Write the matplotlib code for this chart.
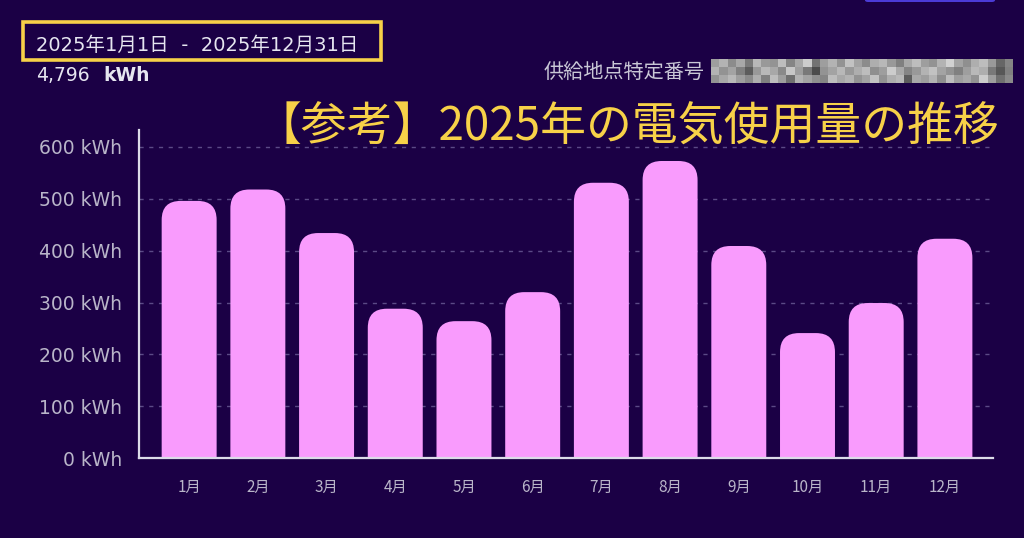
import numpy as np
import matplotlib.pyplot as plt
from matplotlib.patches import FancyBboxPatch, Rectangle

plt.rcParams['font.family'] = ['Noto Sans CJK JP', 'DejaVu Sans']
latin_first = ['DejaVu Sans', 'Noto Sans CJK JP']

# data
months = ['1月', '2月', '3月', '4月', '5月', '6月', '7月', '8月', '9月', '10月', '11月', '12月']
usage_kwh = [496, 518, 434, 288, 264, 320, 531, 573, 409, 241, 299, 423]
y_ticks = [0, 100, 200, 300, 400, 500, 600]
period_text = '2025年1月1日  -  2025年12月31日'
total_text = '4,796'
title_text = '【参考】2025年の電気使用量の推移'

# redacted id mosaic (grey levels)
mosaic = [
    [0.62, 0.70, 0.55, 0.66, 0.48, 0.72, 0.60, 0.58, 0.74, 0.52, 0.66, 0.80, 0.45, 0.62, 0.70, 0.58, 0.76, 0.64,
     0.55, 0.68, 0.72, 0.60, 0.50, 0.66, 0.74, 0.62, 0.58, 0.70, 0.82, 0.64, 0.56, 0.68, 0.74, 0.60, 0.40, 0.52],
    [0.70, 0.58, 0.64, 0.50, 0.36, 0.60, 0.72, 0.66, 0.54, 0.78, 0.62, 0.48, 0.30, 0.58, 0.64, 0.72, 0.60, 0.68,
     0.74, 0.56, 0.62, 0.80, 0.66, 0.52, 0.60, 0.70, 0.76, 0.64, 0.58, 0.50, 0.62, 0.72, 0.68, 0.48, 0.34, 0.50],
    [0.58, 0.66, 0.72, 0.62, 0.54, 0.68, 0.50, 0.74, 0.62, 0.44, 0.70, 0.64, 0.56, 0.52, 0.74, 0.66, 0.70, 0.58,
     0.64, 0.76, 0.58, 0.68, 0.72, 0.36, 0.66, 0.62, 0.70, 0.56, 0.74, 0.62, 0.66, 0.58, 0.80, 0.62, 0.44, 0.54],
]

bg = '#1b0045'
bar_color = '#f99bfd'
yellow = '#f7d148'
light = '#dcdce8'
tick_color = '#b9b5c9'

W, H = 1024, 538
fig = plt.figure(figsize=(W / 100, H / 100), dpi=100, facecolor=bg)

# axes placed by pixel geometry of the reference
ax_l, ax_r, ax_b, ax_t = 139, 993, 458, 130
ax = fig.add_axes([ax_l / W, 1 - ax_b / H, (ax_r - ax_l) / W, (ax_b - ax_t) / H])
ax.set_facecolor(bg)

ymax = 600 * (458 - 130) / (458 - 147)
x_lo, x_hi = -0.73, 11.70
ax.set_xlim(x_lo, x_hi)
ax.set_ylim(0, ymax)

# rounded-top bars: radius in pixels converted to data units
px_per_x = (ax_r - ax_l) / (x_hi - x_lo)
px_per_y = (ax_b - ax_t) / ymax
radius_px = 19
r_x = radius_px / px_per_x
aspect = px_per_x / px_per_y
bar_w = 0.80
for i, v in enumerate(usage_kwh):
    ax.add_patch(FancyBboxPatch((i - bar_w / 2, -radius_px / px_per_y), bar_w, v + radius_px / px_per_y,
                                boxstyle=f'round,pad=0,rounding_size={r_x}', mutation_aspect=aspect,
                                facecolor=bar_color, edgecolor='none', zorder=3))

ax.set_yticks(y_ticks)
ax.set_yticklabels([f'{t} kWh' for t in y_ticks], color=tick_color, fontsize=13.5, family=latin_first)
ax.set_xticks(range(len(months)))
ax.set_xticklabels(months, color=tick_color, fontsize=11)
ax.tick_params(length=0, axis='y', pad=12)
ax.tick_params(length=0, axis='x', pad=15)
for t in y_ticks[1:]:
    ax.axhline(t, color='#5b4a86', lw=1, ls=(0, (3, 4)), zorder=1)

for s in ['top', 'right']:
    ax.spines[s].set_visible(False)
for s in ['left', 'bottom']:
    ax.spines[s].set_color(light)
    ax.spines[s].set_linewidth(1.6)
    ax.spines[s].set_zorder(4)

# header texts
fig.text(36 / W, 1 - 45 / H, period_text, color='#e6e6f0', fontsize=14, va='center', ha='left',
         family=latin_first)
fig.patches.append(Rectangle((23 / W, 1 - 60 / H), (381 - 23) / W, (60 - 22) / H,
                             transform=fig.transFigure, fill=False, edgecolor=yellow, lw=2.6))
fig.text(36 / W, 1 - 75 / H, total_text, color='#e6e6f0', fontsize=13.5, va='center', ha='left',
         family=latin_first)
fig.text(103 / W, 1 - 75 / H, 'kWh', color='#e6e6f0', fontsize=13.5, fontweight='bold', va='center', ha='left',
         family=latin_first)

fig.text(705 / W, 1 - 72 / H, '供給地点特定番号', color='#c9c7d6', fontsize=14.5, va='center', ha='right')
mos_ax = fig.add_axes([711 / W, 1 - 83 / H, (1013 - 711) / W, (83 - 59) / H])
mos_ax.imshow(np.array(mosaic), cmap='gray', vmin=0, vmax=1, aspect='auto', interpolation='nearest')
mos_ax.axis('off')

fig.text(256 / W, 1 - 127 / H, title_text, color=yellow, fontsize=33, va='center', ha='left')

# partial button at top right
fig.patches.append(FancyBboxPatch((865 / W, 1 - 2 / H), (995 - 865) / W, 10 / H,
                                  boxstyle='round,pad=0,rounding_size=0.003', transform=fig.transFigure,
                                  facecolor='#4b3bd6', edgecolor='none'))

fig.savefig('out.png', dpi=100, facecolor=bg)
